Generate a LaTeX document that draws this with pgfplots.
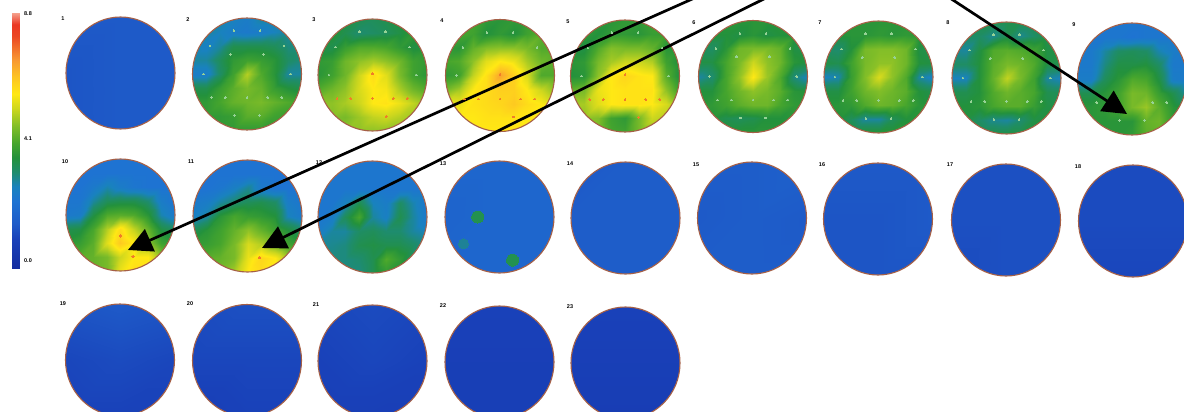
\documentclass[border=0pt]{standalone}
\usepackage{fontspec}
\setmainfont{Liberation Sans}
\usepackage{pgfplots}
\pgfplotsset{compat=1.18}
\usetikzlibrary{arrows.meta}
\definecolor{rim}{RGB}{165,95,70}
\definecolor{dotlight}{RGB}{150,210,150}
\definecolor{dotred}{RGB}{240,125,40}
\definecolor{blobg}{RGB}{35,145,80}
\definecolor{blobt}{RGB}{30,130,150}
\pgfplotsset{colormap={eeg}{
 rgb255(0)=(20,45,160) rgb255(10)=(25,65,185) rgb255(15)=(30,90,200) rgb255(23)=(30,115,210)
 rgb255(28)=(25,130,190) rgb255(33)=(30,140,110) rgb255(38)=(35,145,60) rgb255(43)=(70,165,45)
 rgb255(49)=(130,190,40) rgb255(55)=(205,215,30) rgb255(60)=(255,232,20) rgb255(66)=(253,195,35)
 rgb255(72)=(248,150,50) rgb255(80)=(235,70,35) rgb255(84)=(235,55,35) rgb255(88)=(245,160,140)}}
% #1 cx, #2 cy, #3 cells per side, #4 values read row by row from the top
\newcommand\disc[4]{%
 \gdef\tmp{}%
 \foreach \v [count=\i from 0] in {#4}{%
  \pgfmathsetmacro\xx{#1+54.5*(-1+2*mod(\i,#3)/(#3-1))}%
  \pgfmathsetmacro\yy{#2+56*(-1+2*floor(\i/#3)/(#3-1))}%
  \xdef\tmp{\tmp(\xx,\yy)[\v]}}%
 \edef\act{\noexpand\addplot[surf,shader=interp,mesh/cols=#3,point meta=explicit] coordinates {\tmp};}\act
 \pgfmathsetmacro\xa{#1-58}\pgfmathsetmacro\xb{#1+58}\pgfmathsetmacro\ya{#2-59}\pgfmathsetmacro\yb{#2+59}%
 \edef\act{\noexpand\fill[white,even odd rule] (axis cs:\xa,\ya) rectangle (axis cs:\xb,\yb) (axis cs:#1,#2) ellipse [x radius=54.5pt,y radius=56pt];}\act
 \edef\act{\noexpand\draw[rim,line width=1.1pt] (axis cs:#1,#2) ellipse [x radius=54.5pt,y radius=56pt];}\act
}
\newcommand\elec[5][0.9pt]{%
 \gdef\tmp{}%
 \edef\lst{#4}%
 \foreach \a/\b in \lst {%
  \pgfmathsetmacro\xx{#2+54.5*\a}\pgfmathsetmacro\yy{#3+56*\b}%
  \xdef\tmp{\tmp(\xx,\yy)}}%
 \edef\act{\noexpand\addplot[#5,only marks,mark=*,mark size=#1,mark options={solid,draw=#5,fill=#5,line width=0pt}] coordinates {\tmp};}\act
}
\def\elecall{-.24/-.77,.24/-.77,-.68/-.5,.68/-.5,-.8/0,.8/0,-.3/-.35,.3/-.35,-.65/.42,-.4/.42,0/.42,.38/.42,.64/.42,-.23/.74,.23/.74}
\def\eleclow{-.4/.42,0/.42,.38/.42,.64/.42,-.65/.42,0/-.02,.25/.74}
\begin{document}
\begin{tikzpicture}
\begin{axis}[name=ax,scale only axis,width=1184pt,height=412pt,xmin=0,xmax=1184,ymin=0,ymax=412,y dir=reverse,
 hide axis,clip=true,colormap name=eeg,point meta min=0,point meta max=8.8]
% colour scale
\addplot[surf,shader=interp,mesh/cols=2,point meta=explicit] coordinates {
(12,13)[8.8](20,13)[8.8] (12,23)[8.45](20,23)[8.45] (12,36)[8](20,36)[8] (12,62)[7.1](20,62)[7.1]
(12,94)[6](20,94)[6] (12,123)[5](20,123)[5] (12,152)[4](20,152)[4] (12,181)[3](20,181)[3]
(12,210)[2](20,210)[2] (12,239)[1](20,239)[1] (12,268)[0](20,268)[0]};
% row 1
\disc{120.5}{73}{3}{1.5,1.5,1.5,1.4,1.5,1.5,1.4,1.5,1.5}
\disc{247}{74}{9}{3,3,3,2.8,2.6,3,3,3,3, 3.2,3,2.8,2.6,2.5,2.6,2.8,3,3.2, 3,2.7,3.0,3.6,3.6,3.6,3.5,3.2,3.2, 3,3,3.5,4.0,4.2,4.1,3.9,3.4,3.2, 2.6,2.6,3.4,4.2,5.3,4.4,3.9,3.0,3.0, 3.6,3.6,4.1,4.5,4.8,4.6,4.1,3.8,3.6, 4,4,4.3,4.6,4.7,4.8,4.6,4.4,4.2, 4,4,4,4.1,4.5,4.5,4.2,4.1,4, 4,4,4,4,4,4,4,4,4}
\disc{372.5}{75}{9}{3.9,3.9,3.7,3.6,3.5,3.6,3.8,4,4, 3.9,3.9,3.6,3.3,3.4,3.5,3.7,4,4, 3.7,3.6,4.1,4.4,4.4,4.3,4.0,3.7,3.8, 4,4.1,4.7,5.0,5.2,5.0,4.7,4.2,4, 3.9,4.2,4.7,5.5,6.2,5.7,4.8,4.2,3.9, 4.4,4.7,5,5.6,6.0,5.9,5.2,4.7,4.4, 5,5,5.2,5.5,6.0,6.1,5.8,5.4,5, 5,4.9,4.8,5.1,5.4,5.5,5.3,5.1,5, 5,5,5,5,5,5,5,5,5}
\disc{500}{75.5}{9}{4.5,4.5,4.3,4,3.9,4,4.1,4.3,4.5, 4.3,4.3,4.2,3.8,4,3.8,4.2,4.5,4.5, 4,3.9,4.6,4.9,5,5,4.8,4.4,4.4, 4.3,4.4,5,5.7,6.0,5.8,5.2,4.7,4.5, 4,4.2,5.4,6.1,7.0,6.4,5.6,4.4,4.4, 4.8,5.2,6,6.2,6.4,6.4,6,5.5,5, 5.8,5.8,6.1,6.2,6.3,6.5,6.2,6,5.8, 6,6,6,6.1,6.1,6.1,6,6,6, 6,6,6,6,6,6,6,6,6}
\disc{625}{76}{9}{4.3,4.3,4,3.9,4,4,4.2,4.3,4.3, 4,4,3.8,4,4,3.9,4.1,4.1,4.1, 3.8,3.7,4.4,4.9,4.8,4.8,4.6,3.9,3.8, 3.9,4,4.8,5.2,5.5,5.5,5.3,4.2,3.7, 3.8,3.9,5.0,6,6.3,6.1,6,4.5,3.7, 4.6,4.8,5.8,6,6.1,6.1,6.1,5,4.1, 5.2,5.2,5.7,6,6.1,6.1,6,5.6,5, 5,5,4.9,4.2,4.0,4.8,5.5,5.3,5, 5,5,4.8,4.3,4.2,4.8,5,5,5}
\disc{753}{76.5}{9}{3.9,3.9,3.9,3.9,3.9,3.9,3.9,3.9,3.9, 3.8,3.8,3.8,3.7,3.9,3.7,3.8,3.8,3.8, 3.6,3.4,3.9,4.7,4.8,4.8,4.6,3.7,3.6, 3.7,3.7,4.3,4.8,5.5,5,4.7,3.9,3.7, 3.0,3.3,4.3,5,6.0,5.1,4.4,3.2,2.8, 3.8,3.8,4.3,4.7,5,4.8,4.5,3.9,3.8, 3.9,4,4.2,4.5,4.7,4.7,4.3,4,3.9, 3.9,3.8,3.6,3.5,3.6,3.8,3.8,3.9,3.9, 3.9,3.9,3.9,3.9,3.9,3.9,3.9,3.9,3.9}
\disc{878.5}{77}{9}{3.9,3.9,3.9,3.9,3.9,3.9,3.9,3.9,3.9, 3.9,3.8,3.9,3.9,4,3.9,4,3.9,3.9, 3.4,3.3,3.8,4.8,4.9,4.9,4.7,3.7,3.6, 3.7,3.6,4.2,4.8,5.0,5,4.7,3.8,3.7, 2.8,2.9,4.1,4.9,5.6,5,4.4,3.0,2.7, 3.7,3.7,4.2,4.7,4.9,4.7,4.5,3.8,3.6, 3.9,3.9,4,4.4,4.7,4.6,4.3,3.9,3.9, 3.9,3.8,3.5,3.0,3.0,3.5,3.8,3.9,3.9, 3.9,3.9,3.9,3.9,3.9,3.9,3.9,3.9,3.9}
\disc{1006.5}{78}{9}{3.6,3.6,3.6,3.6,3.6,3.6,3.6,3.6,3.6, 3.3,3.4,3.4,3.1,3.6,3.1,3.4,3.6,3.6, 3.1,3,3.7,4.4,4.5,4.4,4.2,3.7,3.7, 3.4,3.4,3.8,4.5,4.8,4.7,4.4,3.7,3.6, 2.8,2.8,3.8,4.6,5.4,4.8,4.2,3.0,2.8, 3.6,3.6,3.8,4.4,4.7,4.5,4.3,3.6,3.5, 3.8,3.8,3.9,4.3,4.5,4.5,4.1,3.7,3.7, 3.7,3.7,3.4,3.1,3.0,3.3,3.7,3.8,3.8, 3.7,3.7,3.7,3.7,3.7,3.7,3.7,3.7,3.7}
\disc{1132}{79}{9}{2.4,2.4,2.4,2.4,2.4,2.4,2.4,2.4,2.4, 2.5,2.4,2.4,2.4,2.3,2.4,2.4,2.4,2.5, 2.5,2.5,3.0,3.4,3.5,3.4,2.9,2.6,2.5, 2.5,2.5,3.2,3.7,3.7,3.8,3.4,2.5,2.5, 2.6,2.6,3.5,3.9,4.4,4.3,3.7,2.6,2.5, 3.6,3.6,3.9,4.2,4.8,4.7,4.1,3.6,3, 3.9,3.9,4,4.2,4.8,5.1,4.5,3.9,3.7, 3.9,3.9,3.9,3.9,3.9,4.6,4.7,4,3.9, 3.9,3.9,3.9,3.9,4,4.5,4.6,4.1,3.9}
% row 2
\disc{120.5}{215}{9}{2.3,2.3,2.3,2.3,2.3,2.3,2.3,2.3,2.3, 2.3,2.3,2.3,2.3,2.3,2.3,2.3,2.3,2.3, 2.3,2.3,2.5,2.9,2.6,2.4,2.3,2.3,2.3, 2.4,2.4,3.0,3.5,3.6,3.6,3.3,2.6,2.3, 2.5,2.6,3.7,4.4,4.5,4.4,3.9,2.9,2.5, 3.6,3.7,4.3,5.3,6.2,5.4,4.6,3.7,3.4, 3.9,4.1,4.5,5.7,6.5,6,5.0,4.2,3.9, 4.5,4.5,4.6,4.8,5.5,6,6,5,4.5, 4.5,4.5,4.6,4.8,5.8,6.2,6,5.5,5}
\disc{247.5}{216}{9}{2.3,2.3,2.3,2.3,2.3,2.3,2.3,2.3,2.3, 2.3,2.3,2.3,2.3,2.3,2.3,2.3,2.3,2.3, 2.3,2.3,2.4,2.7,3.1,2.5,2.3,2.3,2.3, 2.5,2.6,3,3.3,3.5,3.6,3.4,2.6,2.4, 2.7,3,3.9,4.3,4.1,4,3.8,2.8,2.5, 3.5,3.9,4.2,4.6,5,4.6,4.2,3.8,3.4, 4,4.1,4.3,4.8,5.6,5.3,4.7,4.2,4, 4.5,4.5,4.6,4.8,5.8,6.3,6,5.2,4.6, 4.5,4.6,4.8,5.2,6,6.2,6,5.5,5}
\disc{372.5}{217}{9}{2.4,2.4,2.4,2.4,2.4,2.4,2.4,2.4,2.4, 2.4,2.4,2.4,2.4,2.4,2.4,2.4,2.4,2.4, 2.4,2.4,2.4,2.4,2.4,2.4,2.4,2.4,2.4, 2.4,2.4,2.8,3.6,2.8,2.6,3.4,2.9,2.4, 2.4,2.6,3.5,4.3,3,2.7,3.6,3,2.5, 2.6,3,3,3.4,3.5,3.3,3.3,3,2.8, 3.0,3.1,3.2,3.6,3.7,3.6,3.6,3.4,3.0, 3.2,3.2,3.2,3.3,3.6,4.4,4,3.4,3.2, 3.2,3.2,3.2,3.2,3.6,4,3.8,3.2,3.2}
\disc{499.5}{217}{3}{1.9,1.9,1.9,1.8,1.9,1.9,1.9,1.9,1.9}
\disc{625.5}{218}{3}{1.4,1.6,1.6,1.6,1.6,1.6,1.6,1.6,1.6}
\disc{752}{218}{3}{1.6,1.6,1.7,1.5,1.6,1.5,1.6,1.6,1.6}
\disc{878}{219}{3}{1.5,1.5,1.5,1.4,1.4,1.5,1.4,1.4,1.4}
\disc{1006}{220}{3}{1.3,1.3,1.3,1.3,1.3,1.3,1.2,1.3,1.3}
\disc{1133}{221}{3}{1.2,1.2,1.2,1.2,1.2,1.2,1.1,1.1,1.1}
% row 3
\disc{120}{360}{3}{1.4,1.5,1.4,1.1,1.2,1.1,1,1,1}
\disc{247}{360.5}{3}{1.2,1.3,1.3,1.1,1.1,1.1,0.9,1,1}
\disc{372.5}{361}{3}{1.1,1.2,1.1,1.0,1.1,1.0,0.9,0.9,0.9}
\disc{499.5}{362}{3}{1.0,1.0,1.0,0.9,0.9,0.9,0.9,0.9,0.9}
\disc{625.5}{363}{3}{1.0,1.0,1.0,0.9,0.9,0.9,0.8,0.8,0.8}
% blobs on disc 13
\elec[5pt]{499.5}{217}{-.66/.48}{blobt}
\elec[6pt]{499.5}{217}{-.4/0,.24/.77}{blobg}
% electrode dots
\elec{247}{74}{\elecall}{dotlight}
\elec{372.5}{75}{-.24/-.77,.24/-.77,-.68/-.5,.68/-.5,-.8/0,.8/0}{dotlight}
\elec{500}{75.5}{-.24/-.77,.24/-.77,-.68/-.5,.68/-.5,-.8/0}{dotlight}
\elec{625}{76}{-.24/-.77,.24/-.77,-.68/-.5,.68/-.5,-.8/0,.8/0}{dotlight}
\elec{753}{76.5}{\elecall}{dotlight}
\elec{878.5}{77}{\elecall}{dotlight}
\elec{1006.5}{78}{\elecall}{dotlight}
\elec{1132}{79}{-.65/.42,.38/.42,.64/.42,-.23/.74,.23/.74}{dotlight}
\elec{372.5}{75}{\eleclow}{dotred}
\elec{500}{75.5}{\eleclow}{dotred}
\elec{625}{76}{\eleclow}{dotred}
\elec[1.3pt]{120.5}{215}{0/.37,.23/.74}{dotred}
\elec[1.3pt]{247.5}{216}{.22/.74}{dotred}
% arrows
\addplot[no marks,black,line width=2.7pt,-{Triangle[length=24pt,width=24pt]}] coordinates {(735,-20)(128,250)};
\addplot[no marks,black,line width=2.7pt,-{Triangle[length=24pt,width=24pt]}] coordinates {(790,-14)(262,248)};
\addplot[no marks,black,line width=2.7pt,-{Triangle[length=24pt,width=24pt]}] coordinates {(930,-15)(1127,114)};
% labels
\foreach \n/\x/\y in {1/63/19,2/188/20,3/314/20,4/442/21,5/568/22,6/694/23,7/820/23,8/948/23,9/1074/25,10/65/162,11/191/162,12/319/163,13/443/164,14/570/164,15/696/165,16/822/165,17/950/165,18/1078/167,19/63/304,20/190/304,21/316/305,22/443/306,23/570/307}{
 \edef\act{\noexpand\node[font=\noexpand\fontsize{5.5}{6}\noexpand\selectfont\noexpand\bfseries,inner sep=0pt] at (axis cs:\x,\y) {\n};}\act}
\node[font=\fontsize{5.5}{6}\selectfont\bfseries,inner sep=0pt] at (axis cs:28,14) {8.8};
\node[font=\fontsize{5.5}{6}\selectfont\bfseries,inner sep=0pt] at (axis cs:28,139) {4.1};
\node[font=\fontsize{5.5}{6}\selectfont\bfseries,inner sep=0pt] at (axis cs:28,261) {0.0};
\end{axis}
\pgfresetboundingbox
\path[use as bounding box] (ax.south west) rectangle (ax.north east);
\end{tikzpicture}
\end{document}
